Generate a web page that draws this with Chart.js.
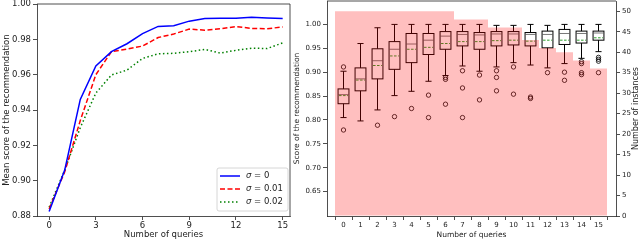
<!DOCTYPE html>
<html>
<head>
<meta charset="utf-8">
<script src="https://cdn.jsdelivr.net/npm/chart.js@4.4.1/dist/chart.umd.min.js"></script>
<style>
  body { margin: 0; background: #fff; }
  .box { position: absolute; top: 0; height: 240px; }
</style>
</head>
<body>
<div class="box" style="left:0;width:295px"><canvas id="meanChart"></canvas></div>
<div class="box" style="left:290px;width:350px"><canvas id="boxChart"></canvas></div>
<script>
// left panel: mean score per number of queries
var queries = [0, 1, 2, 3, 4, 5, 6, 7, 8, 9, 10, 11, 12, 13, 14, 15];
var meanSigma0 = [0.8825, 0.906, 0.946, 0.965, 0.973, 0.9775, 0.9832, 0.9873, 0.9877, 0.9903, 0.9918, 0.992, 0.992, 0.9925, 0.9921, 0.9918];
var meanSigma001 = [0.884, 0.905, 0.934, 0.960, 0.973, 0.9745, 0.9762, 0.981, 0.983, 0.9858, 0.9852, 0.986, 0.9872, 0.9862, 0.986, 0.987];
var meanSigma002 = [0.885, 0.906, 0.930, 0.9496, 0.9598, 0.9626, 0.9692, 0.9718, 0.9721, 0.973, 0.9743, 0.9722, 0.9738, 0.975, 0.9748, 0.978];
var legendLabels = ["0", "0.01", "0.02"];
var meanTicks = [0.88, 0.90, 0.92, 0.94, 0.96, 0.98, 1.00];
var queryTicksLeft = [0, 3, 6, 9, 12, 15];

// right panel: score distribution + number of instances
var instances = [50, 50, 50, 50, 50, 50, 50, 48, 48, 46, 46, 43, 41, 40, 38, 36];
var whiskerLow = [0.805, 0.798, 0.821, 0.851, 0.860, 0.881, 0.893, 0.913, 0.902, 0.911, 0.920, 0.915, 0.909, 0.918, 0.929, 0.943];
var q1 = [0.834, 0.861, 0.886, 0.906, 0.920, 0.937, 0.948, 0.955, 0.948, 0.955, 0.957, 0.955, 0.951, 0.958, 0.961, 0.967];
var median = [0.853, 0.886, 0.924, 0.948, 0.959, 0.967, 0.9755, 0.979, 0.978, 0.980, 0.980, 0.979, 0.979, 0.981, 0.981, 0.982];
var meanScore = [0.851, 0.8835, 0.914, 0.934, 0.948, 0.952, 0.960, 0.964, 0.964, 0.966, 0.967, 0.965, 0.967, 0.967, 0.967, 0.972];
var q3 = [0.865, 0.909, 0.949, 0.964, 0.981, 0.981, 0.985, 0.985, 0.983, 0.985, 0.985, 0.983, 0.986, 0.9895, 0.986, 0.986];
var whiskerHigh = [0.902, 0.960, 0.993, 1.0, 1.0, 1.0, 1.0, 1.0, 1.0, 0.998, 0.998, 1.0, 0.998, 1.0, 1.0, 1.0];
var outliers = [
  [0.911, 0.779], [], [0.789], [0.807], [0.824], [0.852, 0.805],
  [0.889, 0.885, 0.833], [0.903, 0.867, 0.805], [0.894, 0.842],
  [0.903, 0.889, 0.861], [0.911, 0.854], [0.848, 0.845], [0.899],
  [0.900, 0.883], [0.922, 0.918, 0.899, 0.895], [0.931, 0.927, 0.923, 0.899]
];
var scoreTicks = [0.65, 0.70, 0.75, 0.80, 0.85, 0.90, 0.95, 1.00];
var instanceTicks = [0, 5, 10, 15, 20, 25, 30, 35, 40, 45, 50];

Chart.defaults.font.family = "'DejaVu Sans', sans-serif";
Chart.defaults.color = "#222";
Chart.defaults.animation = false;

var ink = "#222";

function points(ys) {
  return queries.map(function (q, i) { return { x: q, y: ys[i] }; });
}
function setTicks(list) {
  return function (scale) {
    scale.ticks = list.map(function (v) { return { value: v }; });
  };
}
function fixSize(w, h) {
  return function (scale) {
    if (w !== null) scale.width = w;
    if (h !== null) scale.height = h;
    scale.paddingTop = 0; scale.paddingBottom = 0;
    scale.paddingLeft = 0; scale.paddingRight = 0;
  };
}
function axisGrid() {
  return { drawOnChartArea: false, drawTicks: true, tickLength: 4, color: ink, lineWidth: 0.8 };
}
function axisBorder() {
  return { display: true, color: ink, width: 0.8 };
}

// top/right spines
var spines = {
  id: "spines",
  afterDraw: function (chart, args, opts) {
    var a = chart.chartArea, ctx = chart.ctx;
    ctx.save();
    ctx.strokeStyle = ink;
    ctx.lineWidth = 0.8;
    ctx.beginPath();
    ctx.moveTo(a.left, a.top);
    ctx.lineTo(a.right, a.top);
    if (opts.right) ctx.lineTo(a.right, a.bottom);
    ctx.stroke();
    ctx.restore();
  }
};

var meanLegend = {
  id: "meanLegend",
  afterDraw: function (chart) {
    var ctx = chart.ctx;
    var x = 217, y = 168, w = 71, h = 43;
    ctx.save();
    ctx.fillStyle = "rgba(255,255,255,0.85)";
    ctx.strokeStyle = "#cccccc";
    ctx.lineWidth = 0.8;
    ctx.beginPath();
    ctx.roundRect(x, y, w, h, 2);
    ctx.fill();
    ctx.stroke();
    chart.data.datasets.forEach(function (ds, i) {
      var ry = y + 8 + i * 13;
      ctx.strokeStyle = ds.borderColor;
      ctx.lineWidth = ds.borderWidth;
      ctx.setLineDash(ds.borderDash || []);
      ctx.beginPath();
      ctx.moveTo(x + 3, ry);
      ctx.lineTo(x + 23, ry);
      ctx.stroke();
      ctx.setLineDash([]);
      ctx.fillStyle = ink;
      ctx.textBaseline = "middle";
      ctx.font = "italic 8.5px 'DejaVu Sans'";
      ctx.fillText("\u03c3", x + 29, ry);
      var sw = ctx.measureText("\u03c3").width;
      ctx.font = "8.5px 'DejaVu Sans'";
      ctx.fillText(" = " + legendLabels[i], x + 29 + sw, ry);
    });
    ctx.restore();
  }
};

new Chart(document.getElementById("meanChart"), {
  type: "line",
  data: {
    datasets: [
      { data: points(meanSigma0), borderColor: "#0000ff", borderWidth: 1.5, pointRadius: 0, tension: 0 },
      { data: points(meanSigma001), borderColor: "#ff0000", borderWidth: 1.5, borderDash: [5, 2.5], pointRadius: 0, tension: 0 },
      { data: points(meanSigma002), borderColor: "#008000", borderWidth: 1.5, borderDash: [1.5, 2.5], pointRadius: 0, tension: 0 }
    ]
  },
  options: {
    responsive: true,
    maintainAspectRatio: false,
    layout: { padding: { top: 4, right: 5, left: 0, bottom: 0 } },
    plugins: { legend: { display: false }, tooltip: { enabled: false }, spines: { right: true } },
    scales: {
      x: {
        type: "linear", min: -0.78, max: 15.47,
        grid: axisGrid(), border: axisBorder(),
        ticks: { font: { size: 8.5 }, padding: 1, maxRotation: 0 },
        title: { display: true, text: "Number of queries", font: { size: 8.5 }, padding: 0 },
        afterBuildTicks: setTicks(queryTicksLeft),
        afterFit: fixSize(null, 24)
      },
      y: {
        min: 0.88, max: 1.0,
        grid: axisGrid(), border: axisBorder(),
        ticks: { font: { size: 8.5 }, padding: 2, callback: function (v) { return v.toFixed(2); } },
        title: { display: true, text: "Mean score of the recommendation", font: { size: 8.5 }, padding: { top: 2, bottom: 0 } },
        afterBuildTicks: setTicks(meanTicks),
        afterFit: fixSize(37, null)
      }
    }
  },
  plugins: [spines, meanLegend]
});

// box plots drawn under the translucent instance bars
var boxes = {
  id: "boxes",
  beforeDatasetsDraw: function (chart) {
    var ctx = chart.ctx, xs = chart.scales.x, ys = chart.scales.y;
    var half = 0.32, cap = 0.18;
    ctx.save();
    queries.forEach(function (q, i) {
      var xc = xs.getPixelForValue(q);
      var xl = xs.getPixelForValue(q - half), xr = xs.getPixelForValue(q + half);
      var cl = xs.getPixelForValue(q - cap), cr = xs.getPixelForValue(q + cap);
      var yq1 = ys.getPixelForValue(q1[i]), yq3 = ys.getPixelForValue(q3[i]);
      var ylo = ys.getPixelForValue(whiskerLow[i]), yhi = ys.getPixelForValue(whiskerHigh[i]);
      ctx.strokeStyle = "#000";
      ctx.lineWidth = 1;
      ctx.setLineDash([]);
      ctx.strokeRect(xl, yq3, xr - xl, yq1 - yq3);
      ctx.beginPath();
      ctx.moveTo(xc, yq1); ctx.lineTo(xc, ylo);
      ctx.moveTo(xc, yq3); ctx.lineTo(xc, yhi);
      ctx.moveTo(cl, ylo); ctx.lineTo(cr, ylo);
      ctx.moveTo(cl, yhi); ctx.lineTo(cr, yhi);
      ctx.stroke();
      // median
      var ym = ys.getPixelForValue(median[i]);
      ctx.strokeStyle = "#555";
      ctx.lineWidth = 0.8;
      ctx.beginPath();
      ctx.moveTo(xl, ym); ctx.lineTo(xr, ym);
      ctx.stroke();
      // mean
      var ya = ys.getPixelForValue(meanScore[i]);
      ctx.strokeStyle = "#2ca02c";
      ctx.lineWidth = 1;
      ctx.setLineDash([2.5, 1.5]);
      ctx.beginPath();
      ctx.moveTo(xl + 1, ya); ctx.lineTo(xr - 1, ya);
      ctx.stroke();
      ctx.setLineDash([]);
      // fliers
      ctx.strokeStyle = "#000";
      ctx.lineWidth = 0.8;
      outliers[i].forEach(function (v) {
        ctx.beginPath();
        ctx.arc(xc, ys.getPixelForValue(v), 2.2, 0, Math.PI * 2);
        ctx.stroke();
      });
    });
    ctx.restore();
  }
};

var rightTitle = {
  id: "rightTitle",
  afterDraw: function (chart) {
    var ctx = chart.ctx, a = chart.chartArea;
    ctx.save();
    ctx.translate(chart.width - 4, (a.top + a.bottom) / 2);
    ctx.rotate(-Math.PI / 2);
    ctx.fillStyle = ink;
    ctx.font = "8px 'DejaVu Sans'";
    ctx.textAlign = "center";
    ctx.textBaseline = "middle";
    ctx.fillText("Number of instances", 0, 0);
    ctx.restore();
  }
};

new Chart(document.getElementById("boxChart"), {
  type: "bar",
  data: {
    datasets: [{
      data: points(instances),
      yAxisID: "y2",
      backgroundColor: "rgba(255,0,0,0.25)",
      borderWidth: 0,
      barPercentage: 1,
      categoryPercentage: 1,
      inflateAmount: 0
    }]
  },
  options: {
    responsive: true,
    maintainAspectRatio: false,
    layout: { padding: { top: 1, right: 0, left: 0, bottom: 0 } },
    plugins: { legend: { display: false }, tooltip: { enabled: false }, spines: { right: false } },
    scales: {
      x: {
        type: "linear", min: -0.9706, max: 16.0294, offset: false,
        grid: axisGrid(), border: axisBorder(),
        ticks: { font: { size: 7 }, padding: 1, maxRotation: 0, autoSkip: false },
        title: { display: true, text: "Number of queries", font: { size: 7.5 }, padding: 0 },
        afterBuildTicks: setTicks(queries),
        afterFit: fixSize(null, 24)
      },
      y: {
        position: "left", min: 0.599, max: 1.049,
        grid: axisGrid(), border: axisBorder(),
        ticks: { font: { size: 7 }, padding: 2, callback: function (v) { return v.toFixed(2); } },
        title: { display: true, text: "Score of the recommendation", font: { size: 7.5 }, padding: { top: 3, bottom: 0 } },
        afterBuildTicks: setTicks(scoreTicks),
        afterFit: fixSize(37, null)
      },
      y2: {
        position: "right", min: 0, max: 52.5,
        grid: axisGrid(), border: axisBorder(),
        ticks: { font: { size: 7 }, padding: 2 },
        afterBuildTicks: setTicks(instanceTicks),
        afterFit: fixSize(24, null)
      }
    }
  },
  plugins: [boxes, spines, rightTitle]
});
</script>
</body>
</html>
